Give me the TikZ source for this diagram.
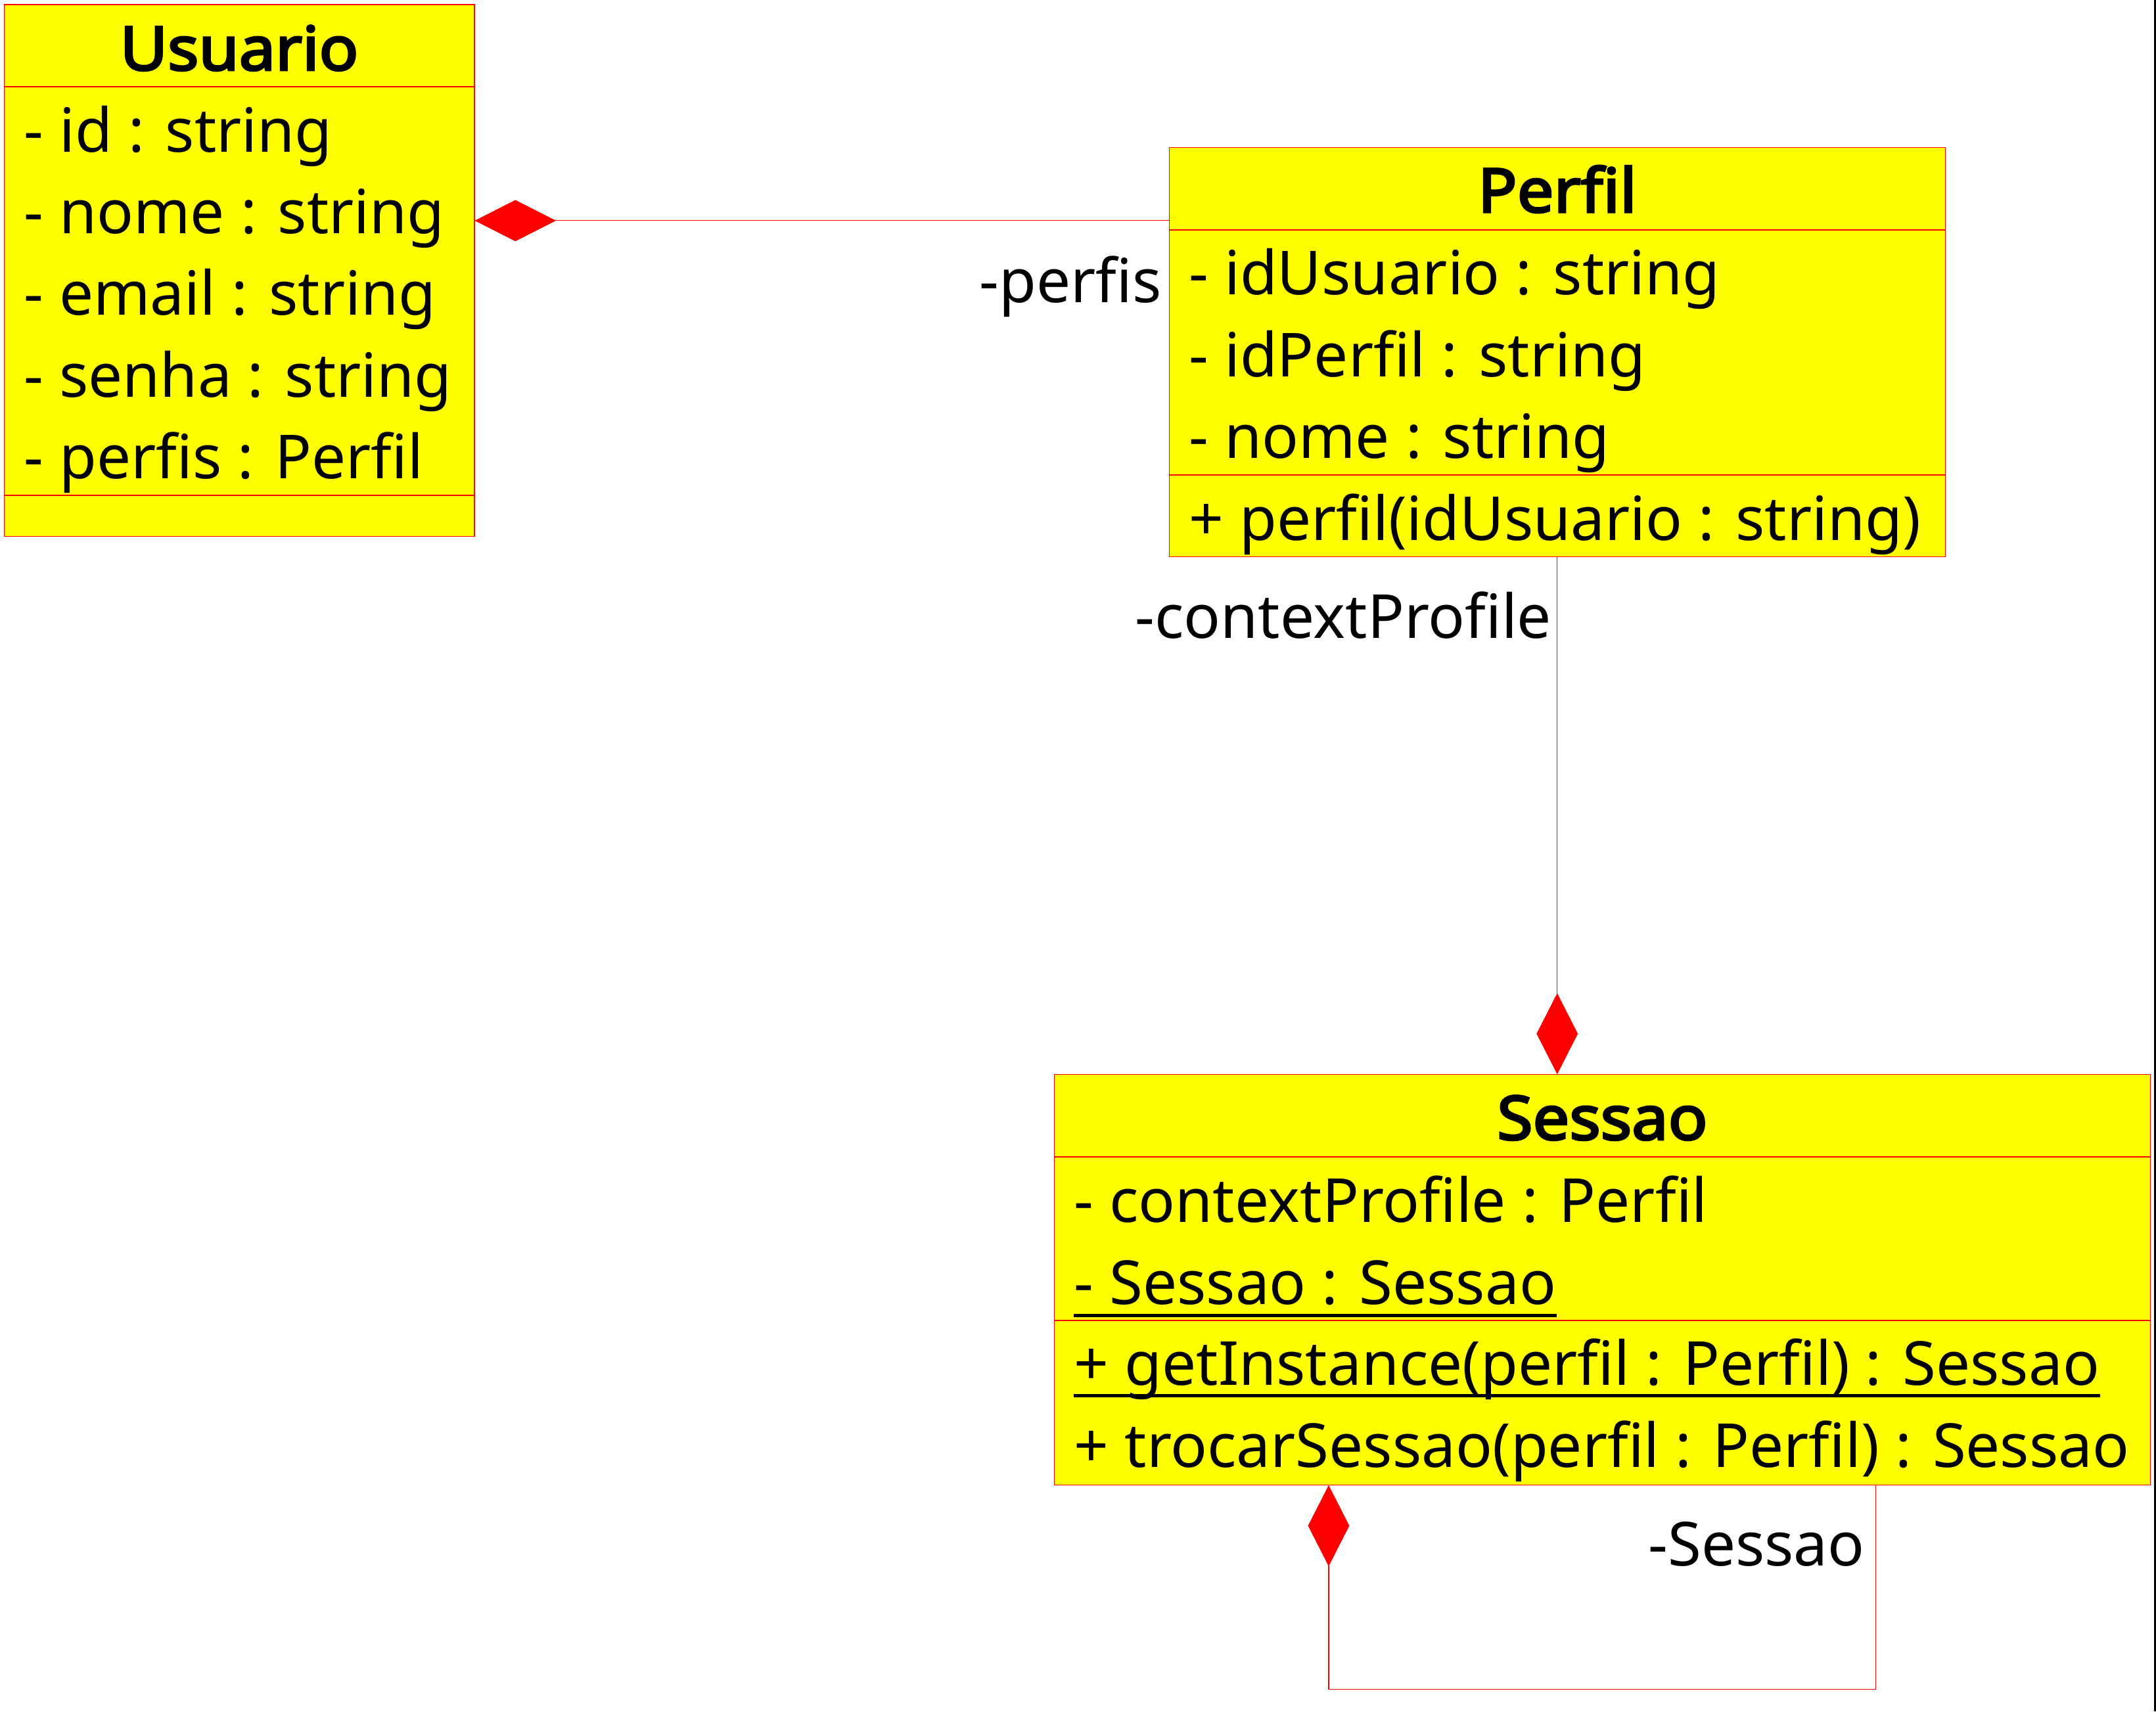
\documentclass[tikz,border=0pt]{standalone}
\usepackage{fontspec}
\setmainfont{Noto Sans}[BoldFont={Noto Sans}, BoldFeatures={FakeBold=3.6, FakeStretch=1.07}]
\usetikzlibrary{arrows.meta, positioning, calc}
\definecolor{umlyellow}{RGB}{255,255,0}
\definecolor{umlred}{RGB}{255,0,0}
\newcommand{\umlfont}{\fontsize{44.2}{54}\selectfont}
\tikzstyle{compart} = [rectangle, draw=umlred, fill=umlyellow, line width=0.5pt, inner sep=0pt]
\tikzstyle{member} = [inner sep=0pt, anchor=base west, font=\umlfont]
\tikzstyle{classname} = [inner sep=0pt, anchor=base, font=\umlfont\bfseries]
\tikzstyle{rolename} = [inner sep=0pt, anchor=base east, font=\umlfont]
\tikzstyle{static} = [line width=2.4pt]
\tikzstyle{composition} = [draw=umlred, line width=0.5pt, -{Diamond[length=59pt,width=30pt,fill=umlred]}]

\begin{document}
\begin{tikzpicture}[x=1pt, y=-1pt]
\useasboundingbox (0,0) rectangle (1568,1245);

% Usuario
\node[compart, anchor=north west, minimum width=342.1pt, minimum height=59.3pt] (usrhead) at (2.7,3.1) {};
\node[compart, below=0pt of usrhead, minimum width=342.1pt, minimum height=297.1pt] (usrattr) {};
\node[compart, below=0pt of usrattr, minimum width=342.1pt, minimum height=29.6pt] (usrops) {};
\node[classname] (usrname) at ($(usrhead.north)+(0,47.9)$) {Usuario};
\foreach \txt [count=\i from 0] in {- id : string, - nome : string, - email : string, - senha : string, - perfis : Perfil}
    \node[member] (usrattr\i) at ($(usrattr.north west)+(14.5,47.6+\i*59.4)$) {\txt};

% Perfil
\node[compart, anchor=north west, minimum width=564.5pt, minimum height=59.7pt] (perfhead) at (850,106.9) {};
\node[compart, below=0pt of perfhead, minimum width=564.5pt, minimum height=178pt] (perfattr) {};
\node[compart, below=0pt of perfattr, minimum width=564.5pt, minimum height=59.2pt] (perfops) {};
\node[classname] (perfname) at ($(perfhead.north)+(0,47.4)$) {Perfil};
\foreach \txt [count=\i from 0] in {- idUsuario : string, - idPerfil : string, - nome : string}
    \node[member] (perfattr\i) at ($(perfattr.north west)+(14.5,47.4+\i*59.4)$) {\txt};
\node[member] (perfops0) at ($(perfops.north west)+(14.5,47.5)$) {+ perfil(idUsuario : string)};

% Sessao
\node[compart, anchor=north west, minimum width=797.1pt, minimum height=59.5pt] (seshead) at (766.5,781.5) {};
\node[compart, below=0pt of seshead, minimum width=797.1pt, minimum height=118.6pt] (sesattr) {};
\node[compart, below=0pt of sesattr, minimum width=797.1pt, minimum height=119.3pt] (sesops) {};
\node[classname] (sesname) at ($(seshead.north)+(0,47.5)$) {Sessao};
\node[member] (sesattr0) at ($(sesattr.north west)+(14.5,47.8)$) {- contextProfile : Perfil};
\node[member] (sesattr1) at ($(sesattr.north west)+(14.5,107.6)$) {- Sessao : Sessao};
\node[member] (sesops0) at ($(sesops.north west)+(14.5,47.2)$) {+ getInstance(perfil : Perfil) : Sessao};
\node[member] (sesops1) at ($(sesops.north west)+(14.5,107)$) {+ trocarSessao(perfil : Perfil) : Sessao};
\draw[static] ([yshift=-7.7pt]sesattr1.base west) -- ([yshift=-7.7pt]sesattr1.base east);
\draw[static] ([yshift=-7.7pt]sesops0.base west) -- ([yshift=-7.7pt]sesops0.base east);

% compositions
\coordinate (perfislink) at ($(perfhead.south west)+(0,-6.6)$);
\draw[composition] (perfislink) -- (perfislink -| usrattr.east);
\node[rolename] (perfisrole) at ($(perfhead.south west)+(-5,53.2)$) {-perfis};

\draw[composition] (perfops.south) -- (perfops.south |- seshead.north);
\node[rolename] (ctxrole) at ($(perfops.south)+(-4,59.2)$) {-contextProfile};

\coordinate (selfout) at ($(sesops.south)+(199,0)$);
\coordinate (selfin) at ($(sesops.south)+(-199,0)$);
\draw[composition] (selfout) -- ++(0,148.4) -| (selfin);
\node[rolename] (sesrole) at ($(sesops.south)+(191,58.8)$) {-Sessao};

% right border
\draw[line width=1.4pt] (1567.3,0) -- (1567.3,1245);
\end{tikzpicture}
\end{document}
